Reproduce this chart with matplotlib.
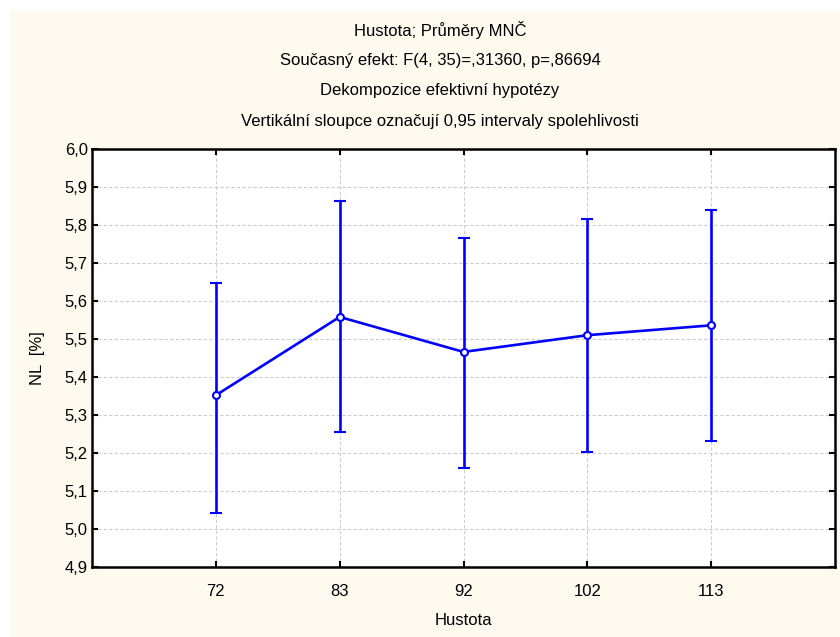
import matplotlib
matplotlib.use("Agg")
import matplotlib.pyplot as plt
from matplotlib.patches import Rectangle
import numpy as np

# ---------------------------------------------------
# DATA
# ---------------------------------------------------
categories = ["72", "83", "92", "102", "113"]
means = [5.352, 5.558, 5.466, 5.510, 5.536]
ci_lower = [5.043, 5.254, 5.160, 5.203, 5.232]
ci_upper = [5.648, 5.862, 5.766, 5.815, 5.840]

y_ticks = [4.9, 5.0, 5.1, 5.2, 5.3, 5.4, 5.5, 5.6, 5.7, 5.8, 5.9, 6.0]

titles = [
    "Hustota; Průměry MNČ",
    "Současný efekt: F(4, 35)=,31360, p=,86694",
    "Dekompozice efektivní hypotézy",
    "Vertikální sloupce označují 0,95 intervaly spolehlivosti",
]

font = ["Liberation Sans", "DejaVu Sans"]

# ---------------------------------------------------
# FIGURE
# ---------------------------------------------------
W, H = 840, 637
fig = plt.figure(figsize=(W / 100, H / 100), dpi=100)
fig.patch.set_facecolor("white")
fig.patches.append(Rectangle((10 / W, 0), 1, 1 - 11 / H,
                             transform=fig.transFigure,
                             facecolor="#fffaf0", edgecolor="none", zorder=-10))

ax = fig.add_axes([92 / W, 1 - 567 / H, (835 - 92) / W, (567 - 149) / H])
ax.set_zorder(1)
ax.set_facecolor("white")

x = np.arange(len(categories))
means_a = np.array(means)
err = [means_a - np.array(ci_lower), np.array(ci_upper) - means_a]

ax.errorbar(x, means, yerr=err, color="#0000ff", lw=1.9,
            elinewidth=1.9, capsize=4.5, capthick=1.9,
            marker="o", markersize=5, markerfacecolor="white",
            markeredgecolor="#0000ff", markeredgewidth=1.5, zorder=3)

# ---------------------------------------------------
# AXES
# ---------------------------------------------------
ax.set_xlim(-1, len(categories))
ax.set_ylim(4.9, 6.0)
ax.set_xticks(x)
ax.set_xticklabels(categories, family=font, fontsize=12)
ax.set_yticks(y_ticks)
ax.set_yticklabels([f"{v:.1f}".replace(".", ",") for v in y_ticks],
                   family=font, fontsize=12)

ax.grid(True, color="#cccccc", ls=(0, (3, 2)), lw=0.8)
ax.set_axisbelow(True)

ax.tick_params(direction="in", length=4, width=1.5, top=True, right=True,
               labeltop=False, labelright=False)
ax.tick_params(axis="x", pad=12)
ax.tick_params(axis="y", pad=3)

for s in ax.spines.values():
    s.set_linewidth(1.8)
    s.set_color("black")

ax.set_xlabel("Hustota", family=font, fontsize=12, labelpad=10)
ax.set_ylabel("NL  [%]", family=font, fontsize=12, labelpad=14)

# ---------------------------------------------------
# TITLES
# ---------------------------------------------------
for i, t in enumerate(titles):
    fig.text(440 / W, 1 - (30 + i * 30.5) / H, t, ha="center", va="center",
             family=font, fontsize=12)

fig.savefig("out.png", dpi=100, facecolor=fig.get_facecolor())
